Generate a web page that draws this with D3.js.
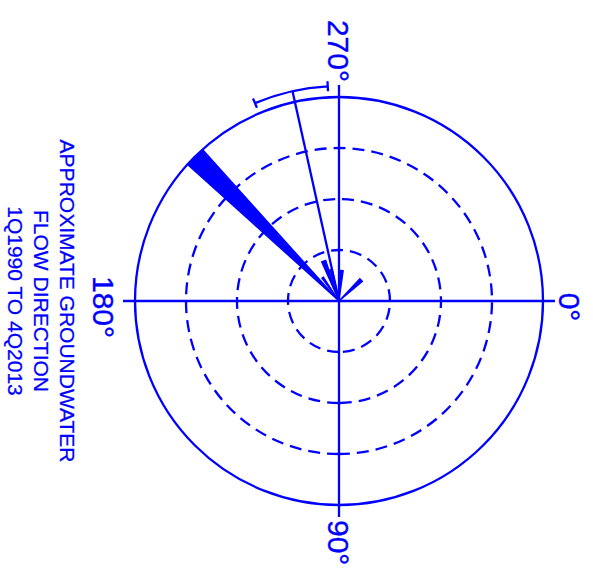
<!DOCTYPE html>
<html>
<head>
<meta charset="utf-8">
<title>Approximate groundwater flow direction</title>
<style type="text/css">
    body { margin: 0; background: #fff; }
    text { font-family: "Liberation Sans", Arial, sans-serif; fill: #0000ff; stroke: #0000ff; stroke-width: 0.35px; }
</style>
</head>
<body>
<script src="https://d3js.org/d3.v7.min.js"></script>
<script>

    // rose petals: direction bins (degrees, compass style) and relative frequency
    var binStart = [222, 233, 246, 254, 272, 313];
    var binEnd   = [228, 237, 252, 258, 278, 320];
    var freq     = [100, 14, 21, 16, 15, 15];

    // mean flow direction and its spread
    var meanDir = 257.5;
    var spread = [247, 267];

    var rings = [25, 50, 75];
    var axisAngles = [0, 90, 180, 270];
    var axisLabels = ["0°", "90°", "180°", "270°"];
    var titleLines = ["APPROXIMATE GROUNDWATER", "FLOW DIRECTION", "1Q1990 TO 4Q2013"];

    var width = 593, height = 575;
    var cx = 339, cy = 301, R = 204;
    var blue = "#0000ff";
    var lw = 2.3;

    var r = d3.scaleLinear().domain([0, 100]).range([0, R]);
    var rad = function (deg) { return deg * Math.PI / 180; };
    // compass angle -> local x,y (0 up, clockwise)
    var pt = function (deg, rr) { return [rr * Math.sin(rad(deg)), -rr * Math.cos(rad(deg))]; };

    var svg = d3.select("body").append("svg")
        .attr("width", width)
        .attr("height", height);

    // the whole rose is drawn north-up, then turned a quarter clockwise like the original sheet
    var g = svg.append("g")
        .attr("transform", "translate(" + cx + "," + cy + ") rotate(90)");

    // dashed rings + outer circle
    g.selectAll(".ring")
        .data(rings)
        .enter().append("circle")
        .attr("r", function (d) { return r(d); })
        .attr("fill", "none")
        .attr("stroke", blue)
        .attr("stroke-width", lw)
        .attr("stroke-dasharray", "12,7");

    g.append("circle")
        .attr("r", r(100))
        .attr("fill", "none")
        .attr("stroke", blue)
        .attr("stroke-width", lw);

    // axes
    g.selectAll(".axis")
        .data(axisAngles)
        .enter().append("line")
        .attr("x1", 0).attr("y1", 0)
        .attr("x2", function (d) { return pt(d, r(100) + 12)[0]; })
        .attr("y2", function (d) { return pt(d, r(100) + 12)[1]; })
        .attr("stroke", blue)
        .attr("stroke-width", lw);

    // petals
    var arc = d3.arc()
        .innerRadius(0)
        .outerRadius(function (d) { return r(d.f); })
        .startAngle(function (d) { return rad(d.a0); })
        .endAngle(function (d) { return rad(d.a1); });

    var petals = binStart.map(function (a, i) { return {a0: a, a1: binEnd[i], f: freq[i]}; });

    g.selectAll(".petal")
        .data(petals)
        .enter().append("path")
        .attr("d", arc)
        .attr("fill", blue)
        .attr("stroke", blue)
        .attr("stroke-width", 1.2);

    // mean direction with spread arc
    var meanR = r(100) + 11;
    var m = pt(meanDir, meanR);
    g.append("line")
        .attr("x1", 0).attr("y1", 0)
        .attr("x2", m[0]).attr("y2", m[1])
        .attr("stroke", blue)
        .attr("stroke-width", lw);

    var p = d3.path();
    p.arc(0, 0, meanR, rad(spread[0] - 90), rad(spread[1] - 90));
    spread.forEach(function (a) {
        var q0 = pt(a, meanR - 5), q1 = pt(a, meanR + 5);
        p.moveTo(q0[0], q0[1]);
        p.lineTo(q1[0], q1[1]);
    });
    g.append("path")
        .attr("d", p.toString())
        .attr("fill", "none")
        .attr("stroke", blue)
        .attr("stroke-width", lw);

    // compass labels
    var lab = g.selectAll(".lab")
        .data(axisAngles)
        .enter().append("text")
        .style("font-size", "30px")
        .text(function (d, i) { return axisLabels[i]; });

    lab.each(function (d) {
        var t = d3.select(this);
        if (d === 0) {
            t.attr("x", 6).attr("y", -(R + 16)).attr("text-anchor", "middle");
        } else if (d === 180) {
            t.attr("x", 6).attr("y", R + 42).attr("text-anchor", "middle");
        } else if (d === 90) {
            t.attr("x", R + 15).attr("y", 11).attr("text-anchor", "start");
        } else {
            t.attr("x", -(R + 15)).attr("y", 11).attr("text-anchor", "end");
        }
    });

    // title under the rose
    g.selectAll(".title")
        .data(titleLines)
        .enter().append("text")
        .attr("x", 0)
        .attr("y", function (d, i) { return R + 75 + i * 26; })
        .attr("text-anchor", "middle")
        .style("font-size", "21px")
        .style("stroke-width", "0.25px")
        .text(function (d) { return d; });

</script>
</body>
</html>
